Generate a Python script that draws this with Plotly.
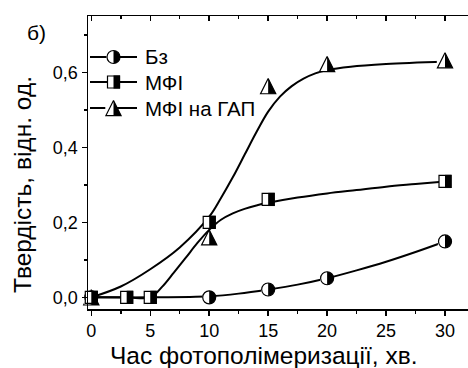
import plotly.graph_objects as go

# ---------------- data ----------------
series_names = ["Бз", "МФІ", "МФІ на ГАП"]

time_bz = [0, 10, 15, 20, 30]
hard_bz = [0.0, 0.0, 0.021, 0.051, 0.149]

time_mfi = [0, 3, 5, 10, 15, 30]
hard_mfi = [0.0, 0.0, 0.0, 0.200, 0.261, 0.309]

time_gap = [0, 10, 15, 20, 30]
hard_gap = [0.0, 0.160, 0.563, 0.622, 0.632]

# smooth fitted curves
fit_bz_t = [0, 5, 10, 12.5, 15, 17.5, 20, 22.5, 25, 27.5, 30]
fit_bz_h = [0, 0, 0.003, 0.010, 0.021, 0.034, 0.051, 0.072, 0.095, 0.121, 0.149]

fit_mfi_t = [0, 3, 5, 6, 7, 8, 9, 10, 11, 12, 13, 14, 15, 17.5, 20, 22.5, 25, 27.5, 30]
fit_mfi_h = [0, 0, 0, 0.028, 0.066, 0.105, 0.145, 0.180, 0.207, 0.224, 0.236, 0.245,
             0.252, 0.266, 0.277, 0.286, 0.295, 0.302, 0.309]

fit_gap_t = [0, 2.5, 5, 7.5, 10, 11, 12, 13, 14, 15, 16, 17, 18, 19, 20, 22, 25, 30]
fit_gap_h = [0, 0.029, 0.075, 0.133, 0.215, 0.265, 0.320, 0.380, 0.440, 0.495, 0.535,
             0.563, 0.583, 0.597, 0.606, 0.615, 0.622, 0.629]

x_title = "Час фотополімеризації, хв."
y_title = "Твердість, відн. од."
panel_label = "б)"

# ---------------- layout constants ----------------
W, H = 468, 368
ML, MR, MT, MB = 88, 0, 16, 59
FONT = "Liberation Sans, Arial, sans-serif"
X_RANGE = [-0.28, 31.95]
Y_RANGE = [-0.031, 0.75]


def px_x(px):
    return (px - ML) / (W - ML - MR)


def px_y(py):
    return (H - MB - py) / (H - MB - MT)


def base(xs, ys, xa, ya):
    return dict(x=xs, y=ys, xaxis=xa, yaxis=ya, mode="markers", showlegend=False,
                hoverinfo="skip", cliponaxis=False)


def circle_layers(xs, ys, xa="x", ya="y"):
    d = 13
    w = d / 2 + 0.6
    return [
        go.Scatter(**base(xs, ys, xa, ya),
                   marker=dict(symbol="circle", size=d, color="black", line=dict(width=0))),
        go.Scatter(**base(xs, ys, xa, ya),
                   marker=dict(symbol="line-ew", size=(d + 1) / 1.4, angle=90, standoff=w / 2,
                               color="white", line=dict(color="white", width=w))),
        go.Scatter(**base(xs, ys, xa, ya),
                   marker=dict(symbol="circle-open", size=d, color="black",
                               line=dict(color="black", width=1.2))),
    ]


def square_layers(xs, ys, xa="x", ya="y"):
    s = 12
    w = s / 2 + 0.6
    return [
        go.Scatter(**base(xs, ys, xa, ya),
                   marker=dict(symbol="square", size=s, color="white",
                               line=dict(color="black", width=1.2))),
        go.Scatter(**base(xs, ys, xa, ya),
                   marker=dict(symbol="line-ew", size=(s + 1.2) / 1.4, angle=270, standoff=w / 2,
                               color="black", line=dict(color="black", width=w))),
    ]


def triangle_fill_layers(xs, ys, xa="x", ya="y"):
    m = 15.2
    w = m / 2 + 0.6
    return [
        go.Scatter(**base(xs, ys, xa, ya),
                   marker=dict(symbol="arrow-down", size=m, angle=180, standoff=m / 2,
                               color="black", line=dict(width=0))),
        go.Scatter(**base(xs, ys, xa, ya),
                   marker=dict(symbol="line-ew", size=(m + 1) / 1.4, angle=90, standoff=w / 2,
                               color="white", line=dict(color="white", width=w))),
    ]


def triangle_outline_layers(xs, ys, xa="x", ya="y"):
    m = 15.2
    return [
        go.Scatter(**base(xs, ys, xa, ya),
                   marker=dict(symbol="arrow-down-open", size=m, angle=180, standoff=m / 2,
                               color="black", line=dict(color="black", width=1.2))),
    ]


def curve(xs, ys):
    return go.Scatter(x=xs, y=ys, mode="lines", line=dict(color="black", width=2, shape="spline"),
                      showlegend=False, hoverinfo="skip")


fig = go.Figure()

# curve of МФІ на ГАП under the triangles
fig.add_trace(curve(fit_gap_t, fit_gap_h))
for t in triangle_fill_layers(time_gap, hard_gap):
    fig.add_trace(t)
fig.add_trace(curve(fit_mfi_t, fit_mfi_h))
fig.add_trace(curve(fit_bz_t, fit_bz_h))
for t in triangle_outline_layers(time_gap, hard_gap):
    fig.add_trace(t)
for t in circle_layers(time_bz, hard_bz):
    fig.add_trace(t)
for t in square_layers(time_mfi, hard_mfi):
    fig.add_trace(t)

# invisible trace to carry the top axis
fig.add_trace(go.Scatter(x=time_mfi, y=hard_mfi, xaxis="x2", yaxis="y", mode="none",
                         showlegend=False, hoverinfo="skip"))

# ---------------- hand-made legend (pixel axes) ----------------
leg_rows = [57, 82, 108]
leg_line_x = [90, 137]
leg_mark_x = [113.5]
leg_text_x = 143
for row in leg_rows:
    fig.add_trace(go.Scatter(x=leg_line_x, y=[row, row], xaxis="x3", yaxis="y3", mode="lines",
                             line=dict(color="black", width=1.8), showlegend=False,
                             hoverinfo="skip", cliponaxis=False))
for t in circle_layers(leg_mark_x, [leg_rows[0]], "x3", "y3"):
    fig.add_trace(t)
for t in square_layers(leg_mark_x, [leg_rows[1]], "x3", "y3"):
    fig.add_trace(t)
for t in triangle_fill_layers(leg_mark_x, [leg_rows[2]], "x3", "y3"):
    fig.add_trace(t)
for t in triangle_outline_layers(leg_mark_x, [leg_rows[2]], "x3", "y3"):
    fig.add_trace(t)

annotations = []
for name, row in zip(series_names, leg_rows):
    annotations.append(dict(text=name, x=px_x(leg_text_x), y=px_y(row), xref="paper", yref="paper",
                            xanchor="left", yanchor="middle", showarrow=False,
                            font=dict(family=FONT, size=20.5, color="black")))
annotations.append(dict(text=x_title, x=px_x(263.5), y=px_y(355), xref="paper", yref="paper",
                        xanchor="center", yanchor="middle", showarrow=False,
                        font=dict(family=FONT, size=24.5, color="black")))
annotations.append(dict(text=y_title, x=px_x(23), y=px_y(185), xref="paper", yref="paper",
                        xanchor="center", yanchor="middle", showarrow=False, textangle=-90,
                        font=dict(family=FONT, size=24.5, color="black")))
annotations.append(dict(text=panel_label, x=px_x(36), y=px_y(33), xref="paper", yref="paper",
                        xanchor="center", yanchor="middle", showarrow=False,
                        font=dict(family=FONT, size=21, color="black")))

axis_common = dict(showline=True, linecolor="black", linewidth=1.5, showgrid=False, zeroline=False,
                   ticklen=5, tickwidth=1.5, tickcolor="black",
                   tickfont=dict(family=FONT, size=18, color="black"))

fig.update_layout(
    width=W, height=H,
    margin=dict(l=ML, r=MR, t=MT, b=MB, pad=0),
    paper_bgcolor="white", plot_bgcolor="rgba(0,0,0,0)",
    showlegend=False, separators=", ",
    font=dict(family=FONT, color="black"),
    xaxis=dict(range=X_RANGE, ticks="outside", tick0=0, dtick=5,
               minor=dict(dtick=2.5, tick0=0, ticks="outside", ticklen=3, tickwidth=1.5,
                          tickcolor="black"),
               **axis_common),
    xaxis2=dict(range=X_RANGE, overlaying="x", side="top", anchor="y", ticks="inside",
                tick0=0, dtick=5, showticklabels=False,
                minor=dict(dtick=2.5, tick0=0, ticks="inside", ticklen=3, tickwidth=1.5,
                           tickcolor="black"),
                **axis_common),
    yaxis=dict(range=Y_RANGE, ticks="outside", tick0=0, dtick=0.2, tickformat=".1f",
               minor=dict(dtick=0.1, tick0=0, ticks="outside", ticklen=3, tickwidth=1.5,
                          tickcolor="black"),
               **axis_common),
    xaxis3=dict(domain=[0, 1], anchor="y3", range=[ML, W - MR], visible=False),
    yaxis3=dict(domain=[0, 1], anchor="x3", range=[H - MB, MT], visible=False),
    annotations=annotations,
)

fig.write_html(
    "out.html",
    config={"displayModeBar": False, "staticPlot": True},
    post_script="document.body.style.margin='0';document.body.style.overflow='hidden';",
)
